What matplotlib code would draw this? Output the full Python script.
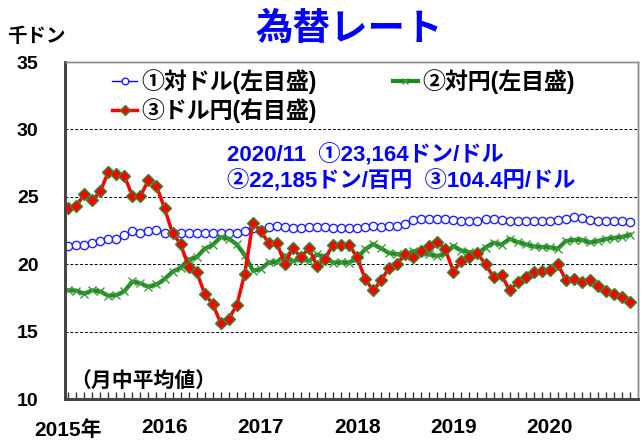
import matplotlib
matplotlib.use('Agg')
import matplotlib.pyplot as plt
import numpy as np

plt.rcParams['font.family'] = ['Liberation Sans', 'Noto Sans CJK JP']
plt.rcParams['font.weight'] = 'bold'

# monthly averages, 2015/01 .. 2020/11
months = np.arange(71)
year_ticks = [12, 24, 36, 48, 60]
year_labels = ['2016', '2017', '2018', '2019', '2020']

# ① dong per dollar (thousand)
vnd_usd = [21.37, 21.40, 21.45, 21.58, 21.72, 21.85, 21.85, 22.15, 22.48, 22.32, 22.45, 22.50,
           22.33, 22.28, 22.30, 22.30, 22.32, 22.33, 22.30, 22.30, 22.31, 22.32, 22.45, 22.68,
           22.55, 22.78, 22.80, 22.74, 22.72, 22.72, 22.73, 22.73, 22.73, 22.72, 22.72, 22.72,
           22.70, 22.75, 22.80, 22.78, 22.80, 22.85, 23.00, 23.30, 23.35, 23.35, 23.35, 23.32,
           23.25, 23.22, 23.22, 23.22, 23.35, 23.35, 23.25, 23.22, 23.22, 23.22, 23.22, 23.20,
           23.20, 23.25, 23.38, 23.50, 23.40, 23.25, 23.20, 23.18, 23.18, 23.17, 23.164]

# ② dong per 100 yen (thousand)
vnd_jpy = [18.06, 18.04, 17.82, 18.06, 17.98, 17.66, 17.71, 17.99, 18.72, 18.58, 18.33, 18.50,
           18.88, 19.44, 19.73, 20.35, 20.50, 21.15, 21.42, 22.01, 21.89, 21.48, 20.67, 19.53,
           19.63, 20.14, 20.16, 20.65, 20.21, 20.47, 20.22, 20.72, 20.51, 20.12, 20.14, 20.12,
           20.45, 21.10, 21.49, 21.17, 20.82, 20.75, 20.63, 20.99, 20.87, 20.72, 20.61, 20.78,
           21.35, 21.01, 20.90, 20.81, 21.23, 21.60, 21.45, 21.88, 21.64, 21.48, 21.32, 21.28,
           21.25, 21.14, 21.71, 21.80, 21.81, 21.61, 21.72, 21.87, 21.95, 22.02, 22.185]

# ③ yen per dollar (right scale, hidden)
usd_jpy = [118.3, 118.6, 120.4, 119.5, 120.8, 123.7, 123.4, 123.1, 120.1, 120.1, 122.5, 121.6,
           118.3, 114.6, 113.0, 109.6, 108.9, 105.6, 104.1, 101.3, 101.9, 103.9, 108.6, 116.1,
           114.9, 113.1, 113.1, 110.1, 112.4, 111.0, 112.4, 109.7, 110.8, 112.9, 112.8, 112.9,
           111.0, 107.8, 106.1, 107.6, 109.5, 110.1, 111.5, 111.0, 111.9, 112.7, 113.3, 112.2,
           108.9, 110.5, 111.1, 111.6, 110.0, 108.1, 108.4, 106.1, 107.3, 108.1, 108.9, 109.0,
           109.2, 110.0, 107.7, 107.8, 107.3, 107.6, 106.8, 106.0, 105.6, 105.2, 104.4]

fig = plt.figure(figsize=(6.44, 4.40), dpi=100)
ax = fig.add_axes([65/644, 41/440, 573/644, 337/440])

l1, = ax.plot(months, vnd_usd, color='#0000FF', lw=1, marker='o', ms=6,
              mfc='white', mec='#2222FF', mew=1, label='①対ドル(左目盛)')
l2, = ax.plot(months, vnd_jpy, color='#1E8A1E', lw=3, marker='x', ms=6,
              mec='#3C9A3C', mew=1, label='②対円(左目盛)')

ax2 = ax.twinx()
l3, = ax2.plot(months, usd_jpy, color='#FF0000', lw=2.5, marker='D', ms=6,
               mfc='#FF0000', mec='#2E8B2E', mew=1, label='③ドル円(右目盛)')
ax2.set_ylim(90, 140)
ax2.set_yticks([])

ax.set_xlim(-0.4, 71)
ax.set_ylim(10, 35)
ax.set_yticks(range(10, 36, 5))
ax.tick_params(axis='y', length=0, pad=19, labelsize=14)
ax.set_xticks(year_ticks, year_labels)
ax.set_xticks(months, minor=True)
ax.tick_params(axis='x', which='both', direction='in', length=5, width=1, color='#333333',
               pad=14, labelsize=15)
ax.yaxis.grid(True, linestyle=(0, (3, 2)), color='black', lw=0.7)

for a in (ax, ax2):
    a.spines['left'].set_color('#444444')
    a.spines['left'].set_linewidth(2)
    a.spines['bottom'].set_color('#444444')
    a.spines['bottom'].set_linewidth(2)
    a.spines['top'].set_color('#888888')
    a.spines['top'].set_linewidth(1)
    a.spines['right'].set_color('#888888')
    a.spines['right'].set_linewidth(1)

fig.legend(handles=[l1, l3, l2], ncol=2, loc='upper left',
           bbox_to_anchor=(112/644, 1 - 69/440), frameon=False, fontsize=16.5,
           handlelength=1.1, handletextpad=0.2, columnspacing=3.3,
           labelspacing=0.2, borderpad=0, borderaxespad=0, markerscale=0.8)

fig.text(349/644, 1 - 30/440, '為替レート', ha='center', va='center',
         fontsize=27, color='#0000FF', fontweight='bold')
fig.text(36/644, 1 - 37/440, '千ドン', ha='center', va='center', fontsize=14)
fig.text(68/644, 1 - 430/440, '2015年', ha='center', va='center', fontsize=15)
fig.text(227/644, 1 - 155/440, '2020/11  ①23,164ドン/ドル', ha='left', va='center',
         fontsize=16, color='#0000FF')
fig.text(227/644, 1 - 181/440, '②22,185ドン/百円  ③104.4円/ドル', ha='left', va='center',
         fontsize=16, color='#0000FF')
fig.text(70/644, 1 - 381/440, '（月中平均値）', ha='left', va='center', fontsize=15)

fig.savefig('out.png', dpi=100)
